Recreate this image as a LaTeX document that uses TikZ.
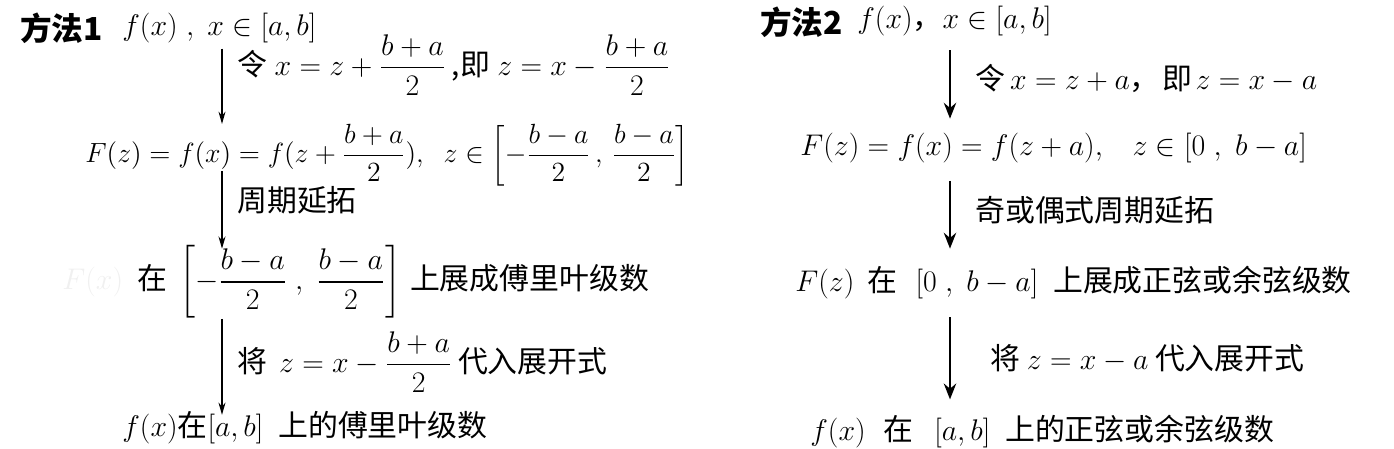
\RequirePackage{fix-cm}
\documentclass[tikz,border=0pt]{standalone}
\usepackage{amsmath}
\usepackage{fontspec}
\setmainfont{Noto Sans CJK SC}
\usetikzlibrary{arrows.meta}
\newcommand{\mth}[2][17]{{\fontsize{#1}{19}\selectfont$#2$}}

\begin{document}
\begin{tikzpicture}[x=0.02cm, y=-0.02cm,
  txt/.style={inner sep=0pt, anchor=west, font=\fontsize{17}{20}\selectfont},
  ttl/.style={txt, font=\fontsize{18}{21}\selectfont\bfseries},
  thinarr/.style={-{Stealth[length=7pt, width=4pt]}, line width=0.7pt},
  thickarr/.style={-{Stealth[length=9pt, width=7pt]}, line width=1.5pt}]
  \useasboundingbox (0,0) rectangle (1394,449);
  % method 1
  \coordinate (axL) at (222,0);
  \node[ttl] (h1) at (20,28) {方法1};
  \node[txt] (s1) at (122,28) {\mth{f(x)\;,\;x\in[a,b]}};
  \node[txt] (l1) at (237,65) {令\hspace{0.25em}\mth{x=z+\dfrac{b+a}{2}}\hspace{0.2em},即\hspace{0.25em}\mth{z=x-\dfrac{b+a}{2}}};
  \node[txt] (s2) at (85,155) {\mth[15.8]{F(z)=f(x)=f(z+\dfrac{b+a}{2}),\;\; z\in\left[-\dfrac{b-a}{2}\,,\,\dfrac{b-a}{2}\right]}};
  \node[txt] (l2) at (237,200) {周期延拓};
  \node[txt, text=black!6] (g3) at (62,282) {\mth{F(x)}};
  \node[txt] (s3) at (137,282) {在\hspace{0.4em}\mth{\left[-\dfrac{b-a}{2}\;,\;\dfrac{b-a}{2}\right]}\hspace{0.3em}上展成傅里叶级数};
  \node[txt] (l3) at (237,362) {将\hspace{0.4em}\mth{z=x-\dfrac{b+a}{2}}\hspace{0.2em}代入展开式};
  \node[txt] (s4) at (122,428) {\mth{f(x)}在\mth{[a,b]}\hspace{0.5em}上的傅里叶级数};
  \draw[thinarr] ([yshift=-3pt]s1.south -| axL) -- (s2.north -| axL);
  \draw[thinarr] ([yshift=-5pt]s2.base -| axL) -- ([yshift=-2pt]s3.north -| axL);
  \draw[thinarr] (s3.south -| axL) -- ([yshift=-2pt]s4.north -| axL);
  % method 2
  \coordinate (axR) at (950,0);
  \node[ttl] (h2) at (760,22) {方法2};
  \node[txt] (t1) at (857,21) {\mth{f(x)}，\mth{x\in[a,b]}};
  \node[txt] (r1) at (975,78) {令\mth{\,x=z+a}，\hspace{0.1em}即\hspace{0.1em}\mth{z=x-a}};
  \node[txt] (t2) at (800,148) {\mth{F(z)=f(x)=f(z+a),\;\;\; z\in[0\;,\;b-a]}};
  \node[txt] (r2) at (975,210) {奇或偶式周期延拓};
  \node[txt] (t3) at (795,283) {\mth{F(z)}\hspace{0.45em}在\hspace{0.6em}\mth{[0\;,\;b-a]}\hspace{0.5em}上展成正弦或余弦级数};
  \node[txt] (r3) at (990,358) {将 \mth{z=x-a} 代入展开式};
  \node[txt] (t4) at (810,432) {\mth{f(x)}\hspace{0.6em}在\hspace{0.7em}\mth{[a,b]}\hspace{0.5em}上的正弦或余弦级数};
  \draw[thickarr] ([yshift=-8pt]t1.south -| axR) -- ([yshift=8pt]t2.north -| axR);
  \draw[thickarr] ([yshift=-10pt]t2.south -| axR) -- ([yshift=10pt]t3.north -| axR);
  \draw[thickarr] ([yshift=-10pt]t3.south -| axR) -- ([yshift=9pt]t4.north -| axR);
\end{tikzpicture}
\end{document}
